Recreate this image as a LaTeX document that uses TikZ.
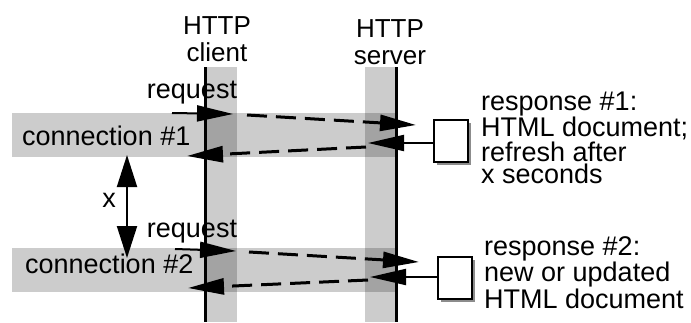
\documentclass[tikz,border=0pt]{standalone}
\usepackage{fontspec}
\setmainfont{Liberation Sans}
\usetikzlibrary{arrows.meta}
\usetikzlibrary{calc}
\usetikzlibrary{math}
\usetikzlibrary{shadows}

\tikzset{
  lbl/.style={inner sep=0pt, font=\fontsize{27}{22}\selectfont, align=left},
  hdr/.style={inner sep=0pt, font=\fontsize{26}{27}\selectfont, align=center},
  band/.style={fill=black, fill opacity=0.2, draw=none},
  life/.style={line width=3pt},
  head/.style={-{Triangle[length=36pt,width=16pt]}},
  req/.style={head, line width=2pt},
  dashmsg/.style={head, line width=3pt, dash pattern=on 20pt off 9pt},
  doc/.style={draw, line width=2.5pt, fill=white, minimum width=34pt,
    minimum height=42pt, inner sep=0pt,
    drop shadow={shadow xshift=3pt, shadow yshift=-3pt, fill=black!45, opacity=1}},
}

\begin{document}
\begin{tikzpicture}[x=1pt,y=-1pt]

  \tikzmath{
    \cx   = 205; % client time line
    \sx   = 396; % server time line
    \bw   = 30;  % width of the grey bands round the lines
    \ytop = 67;  % where the lines start
    \ybot = 322; % bottom of the picture
  }

  \useasboundingbox (0,0) rectangle (691,322);

  % grey bands: the two connections and the two hosts
  \fill[band] (12,113) rectangle (\sx,157);
  \fill[band] (12,248) rectangle (\sx,292);
  \fill[band] (\cx+2,\ytop) rectangle (\cx+2+\bw,\ybot);
  \fill[band] (\sx-1-\bw,\ytop) rectangle (\sx-1,\ybot);

  % hosts (base = baseline of the last line)
  \node[hdr, anchor=base] (client) at (217,61) {HTTP\\client};
  \node[hdr, anchor=base] (server) at (390,64) {HTTP\\server};
  \coordinate (ctop) at (\cx,\ytop);
  \coordinate (cbot) at (\cx,\ybot);
  \coordinate (stop) at (\sx,\ytop);
  \coordinate (sbot) at (\sx,\ybot);
  \draw[life] (ctop) -- (cbot);
  \draw[life] (stop) -- (sbot);

  % documents sent back
  \node[doc] (doc1) at (451,141) {};
  \node[doc] (doc2) at (455,278) {};

  % connection #1
  \coordinate (rq1)  at (172,113);
  \coordinate (c1in) at (233,114);
  \coordinate (d1)   at (247,115);
  \coordinate (s1in) at (416,125);
  \coordinate (s1out) at (368,143);
  \coordinate (d1b)  at (366,147);
  \coordinate (c1out) at (187,156);
  \draw[req] (rq1) -- (c1in);
  \draw[dashmsg] (d1) -- (s1in);
  \draw[req] (doc1.west |- s1out) -- (s1out);
  \draw[dashmsg] (d1b) -- (c1out);

  % connection #2
  \coordinate (rq2)  at (175,249);
  \coordinate (c2in) at (236,251);
  \coordinate (d2)   at (249,252);
  \coordinate (s2in) at (419,262);
  \coordinate (s2out) at (370,277);
  \coordinate (d2b)  at (368,280);
  \coordinate (c2out) at (188,288);
  \draw[req] (rq2) -- (c2in);
  \draw[dashmsg] (d2) -- (s2in);
  \draw[req] (doc2.west |- s2out) -- (s2out);
  \draw[dashmsg] (d2b) -- (c2out);

  % time between the two connections
  \coordinate (xtop) at (127,155);
  \coordinate (xbot) at (127,258);
  \draw[line width=2pt, {Triangle[length=32pt,width=20pt]}-{Triangle[length=32pt,width=20pt]}]
    (xtop) -- (xbot);
  \node[lbl, anchor=base] (xlbl) at (109,207) {x};

  % labels
  \node[lbl, anchor=base] (req1) at (192,98) {request};
  \node[lbl, anchor=base] (req2) at (192,237) {request};
  \node[lbl, anchor=base west] (conn1) at (22,145) {connection \#1};
  \node[lbl, anchor=base west] (conn2) at (25,273) {connection \#2};
  \node[lbl, anchor=base west] (resp1) at (481,183)
    {response \#1:\\HTML document;\\refresh after\\x seconds};
  \node[lbl, anchor=base west] (resp2) at (484,308)
    {response \#2:\\new or updated\\HTML document};

\end{tikzpicture}
\end{document}
